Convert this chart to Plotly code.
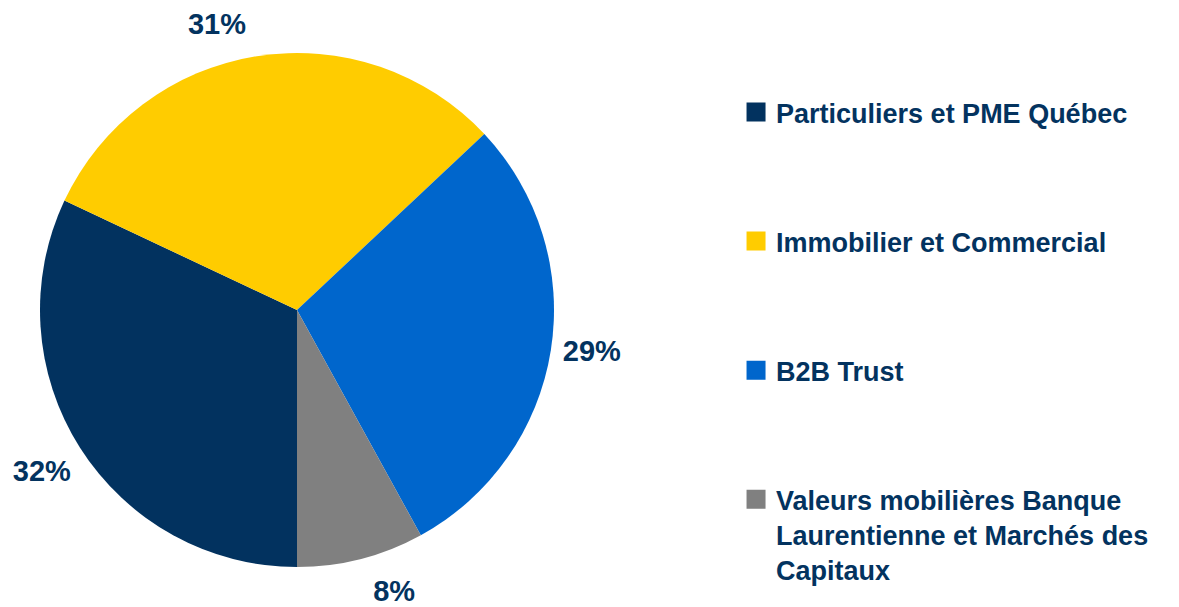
import plotly.graph_objects as go

labels = ["Particuliers et PME Québec", "Immobilier et Commercial", "B2B Trust",
          "Valeurs mobilières Banque<br>Laurentienne et Marchés des<br>Capitaux"]
values = [32, 31, 29, 8]
colors = ["#02325F", "#FFCC00", "#0066CC", "#808080"]
text_color = "#03335F"

W, H = 1179, 607
# page body adds 8px offset
cx, cy, r = 289, 302, 257
rb = 240  # base radius of the transparent label layer
label_pull = [0.029, 0.142, 0.0875, 0.143]
label_tpl = ["\u00a0<br><b>%{percent:.0%}</b>", "<b>%{percent:.0%}</b>",
             "<b>%{percent:.0%}</b>", "<b>%{percent:.0%}</b>"]
rt = rb * (1 + max(label_pull))


def dom(rad):
    return dict(x=[(cx - rad) / W, (cx + rad) / W],
                y=[(H - cy - rad) / H, (H - cy + rad) / H])


fig = go.Figure()
fig.add_trace(go.Pie(
    labels=labels, values=values, sort=False, direction="clockwise", rotation=180,
    marker=dict(colors=colors, line=dict(width=0)),
    textinfo="none", showlegend=False, domain=dom(r),
))
# label layer (transparent slices carrying the outside percentage labels)
fig.add_trace(go.Pie(
    labels=labels, values=values, sort=False, direction="clockwise", rotation=180,
    marker=dict(colors=["rgba(0,0,0,0)"] * 4, line=dict(width=0)),
    pull=label_pull, hoverinfo="skip",
    texttemplate=label_tpl, textposition="outside",
    outsidetextfont=dict(family="Liberation Sans", size=29, color=text_color),
    showlegend=False, domain=dom(rt),
))
for lab, col in zip(labels, colors):
    fig.add_trace(go.Scatter(
        x=[None], y=[None], mode="markers", name=f"<b>{lab}</b>", legendgroup=lab,
        marker=dict(symbol="square", size=16, color=col, line=dict(width=3, color=col)),
    ))

fig.update_layout(
    width=W, height=H, margin=dict(l=0, r=0, t=0, b=0, autoexpand=False),
    paper_bgcolor="white", plot_bgcolor="white",
    xaxis=dict(visible=False), yaxis=dict(visible=False),
    font=dict(family="Liberation Sans", color=text_color),
    legend=dict(x=0.6175, y=0.8683, xanchor="left", yanchor="top",
                font=dict(family="Liberation Sans", size=27, color=text_color),
                tracegroupgap=91, valign="top", itemwidth=30,
                bgcolor="rgba(0,0,0,0)"),
)
fig.write_html("out.html")
